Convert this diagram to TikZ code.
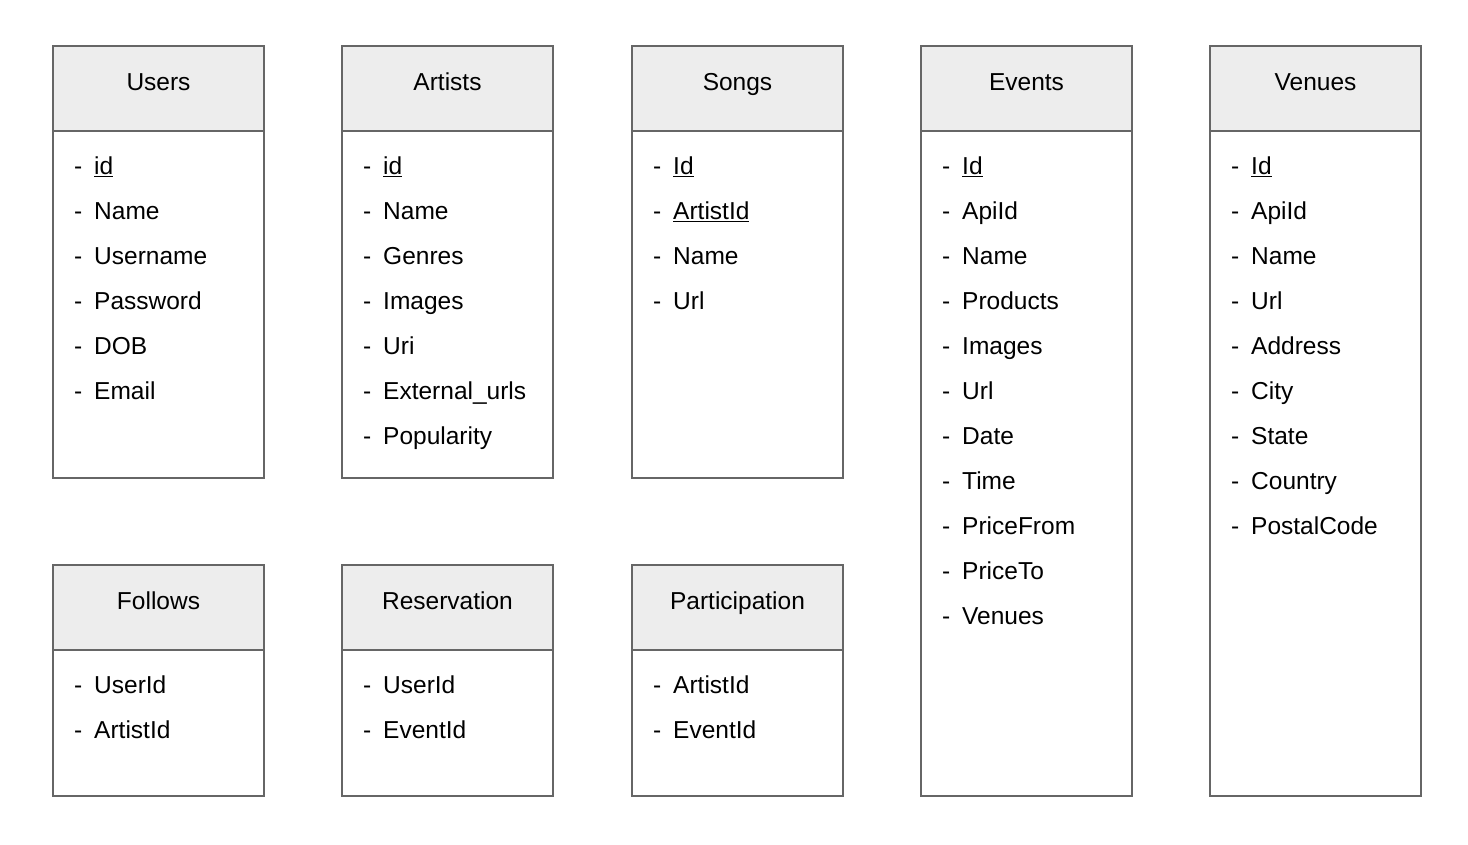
\documentclass[tikz,border=0pt]{standalone}
\usepackage{fontspec}
\setmainfont{Liberation Sans}
\begin{document}
\begin{tikzpicture}[x=1pt,y=-1pt,
  frame/.style={draw=black!60, line width=1.6pt},
  headbox/.style={frame, fill=black!7},
  hdr/.style={anchor=base, inner sep=0pt, font=\fontsize{24.5}{28}\selectfont},
  attr/.style={anchor=base west, inner sep=0pt, font=\fontsize{24.5}{28}\selectfont},
  dashmark/.style={anchor=base west, inner sep=0pt, font=\fontsize{24.5}{28}\selectfont}]
\useasboundingbox (0,0) rectangle (1468,844);
\fill[white] (0,0) rectangle (1468,844);
% #1 name, #2 left x, #3 top y, #4 bottom y, #5 title, #6 list of attributes
\newcommand\erbox[6]{%
  \draw[headbox] (#2,#3) rectangle coordinate (#1h) (#2+211,#3+85);
  \draw[frame] (#2,#3+85) rectangle (#2+211,#4);
  \node[hdr] (#1t) at (#2+105.5,#3+44.5) {#5};
  \foreach \a [count=\i] in {#6} {
    \node[dashmark] (#1d\i) at (#2+21,#3+128.5+45*\i-45) {-};
    \node[attr] (#1a\i) at (#2+41,#3+128.5+45*\i-45) {\a};
  }%
}
\erbox{users}{53}{46}{478}{Users}{\underline{id},Name,Username,Password,DOB,Email}
\erbox{artists}{342}{46}{478}{Artists}{\underline{id},Name,Genres,Images,Uri,External\_urls,Popularity}
\erbox{songs}{632}{46}{478}{Songs}{\underline{Id},\underline{ArtistId},Name,Url}
\erbox{events}{921}{46}{796}{Events}{\underline{Id},ApiId,Name,Products,Images,Url,Date,Time,PriceFrom,PriceTo,Venues}
\erbox{venues}{1210}{46}{796}{Venues}{\underline{Id},ApiId,Name,Url,Address,City,State,Country,PostalCode}
\erbox{follows}{53}{565}{796}{Follows}{UserId,ArtistId}
\erbox{reserv}{342}{565}{796}{Reservation}{UserId,EventId}
\erbox{partic}{632}{565}{796}{Participation}{ArtistId,EventId}
\end{tikzpicture}
\end{document}
